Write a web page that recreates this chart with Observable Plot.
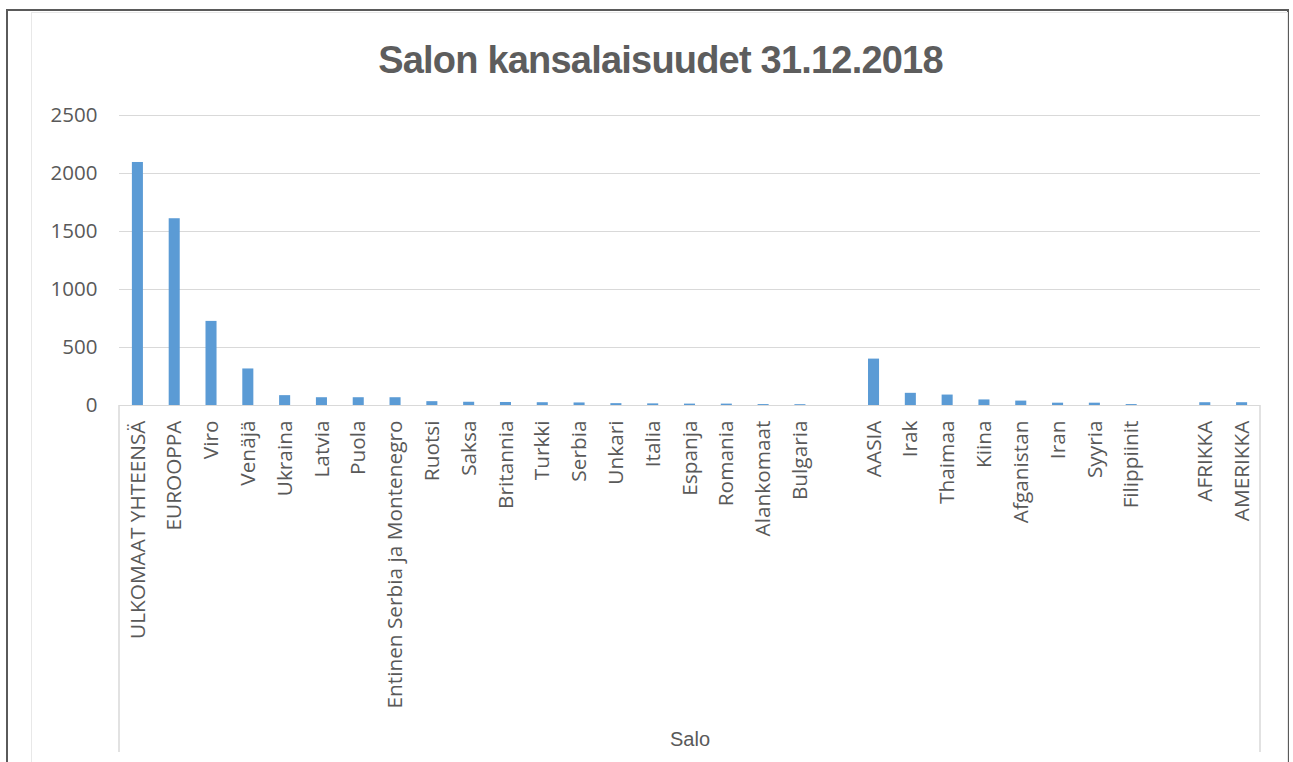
<!DOCTYPE html>
<html>
<head>
<meta charset="utf-8">
<script src="https://cdn.jsdelivr.net/npm/d3@7"></script>
<script src="https://cdn.jsdelivr.net/npm/@observablehq/plot@0.6"></script>
<style>
  html, body { margin: 0; padding: 0; background: #fff; width: 1293px; height: 762px; overflow: hidden; }
  #wrap { position: relative; width: 1293px; height: 762px; }
  #outer { position: absolute; left: 6px; top: 9px; width: 1283px; height: 800px; border: 2px solid #5a5a5a; border-bottom: none; box-sizing: border-box; }
  #inner { position: absolute; left: 31px; top: 12px; width: 1257px; height: 800px; border: 1px solid #e8e8e8; border-bottom: none; box-sizing: border-box; }
  #title { position: absolute; left: 14px; top: 35px; width: 1293px; text-align: center; font-family: "Liberation Sans", sans-serif; font-weight: bold; font-size: 38px; letter-spacing: -0.8px; color: #5d5d5d; line-height: 50px; }
  #chart { position: absolute; left: 0; top: 0; }
</style>
</head>
<body>
<div id="wrap">
  <div id="outer"></div>
  <div id="inner"></div>
  <div id="chart"></div>
  <div id="title">Salon kansalaisuudet 31.12.2018</div>
</div>
<script>
const categories = [
  "ULKOMAAT YHTEENSÄ", "EUROOPPA", "Viro", "Venäjä", "Ukraina", "Latvia", "Puola",
  "Entinen Serbia ja Montenegro", "Ruotsi", "Saksa", "Britannia", "Turkki", "Serbia",
  "Unkari", "Italia", "Espanja", "Romania", "Alankomaat", "Bulgaria", "",
  "AASIA", "Irak", "Thaimaa", "Kiina", "Afganistan", "Iran", "Syyria", "Filippiinit", "",
  "AFRIKKA", "AMERIKKA"
];
const values = [
  2095, 1610, 725, 315, 85, 67, 67,
  67, 33, 28, 26, 24, 22,
  16, 14, 12, 12, 8, 7, null,
  400, 105, 90, 48, 38, 20, 20, 8, null,
  24, 24
];
const yTicks = [0, 500, 1000, 1500, 2000, 2500];
const axisLabel = "Salo";

const data = categories.map((c, i) => ({i, name: c, value: values[i]})).filter(d => d.value != null);

const textColor = "#595959";
const chart = Plot.plot({
  width: 1293,
  height: 762,
  marginLeft: 119,
  marginRight: 33,
  marginTop: 115,
  marginBottom: 357,
  style: {fontFamily: "'Open Sans', sans-serif", fontSize: "18px", color: textColor, background: "transparent"},
  x: {type: "band", domain: d3.range(categories.length), paddingInner: 0.7, paddingOuter: 0.35, round: false, axis: null},
  y: {domain: [0, 2500], axis: null},
  marks: [
    Plot.gridY(yTicks, {stroke: "#d9d9d9", strokeOpacity: 1, strokeWidth: 1}),
    Plot.axisY(yTicks, {tickSize: 0, tickPadding: 22, fontSize: 20.5, fill: textColor, tickFormat: d => String(d), label: null}),
    Plot.barY(data, {x: "i", y: "value", fill: "#5b9bd5"}),
    Plot.ruleY([0], {stroke: "#d9d9d9"}),
    Plot.axisX(d3.range(categories.length), {tickSize: 0, tickPadding: 15, tickRotate: -90, fontSize: 20.8, fill: textColor, tickFormat: i => categories[i], label: null}),
    Plot.text([axisLabel], {frameAnchor: "bottom", dy: 334, text: d => d, fontSize: 20, fill: textColor, fontFamily: "'Liberation Sans', sans-serif", lineAnchor: "middle"})
  ]
});
document.getElementById("chart").appendChild(chart);

// Category-axis box lines (derived from scales)
const xs = chart.scale("x");
const ys = chart.scale("y");
const svg = d3.select(chart);
const x0 = xs.range[0], x1 = xs.range[1];
const yb = ys.apply(0);
svg.append("g").attr("stroke", "#d9d9d9").attr("stroke-width", 1.5)
  .selectAll("line").data([x0, x1]).join("line")
  .attr("x1", d => d).attr("x2", d => d).attr("y1", yb).attr("y2", yb + 347);
</script>
</body>
</html>
